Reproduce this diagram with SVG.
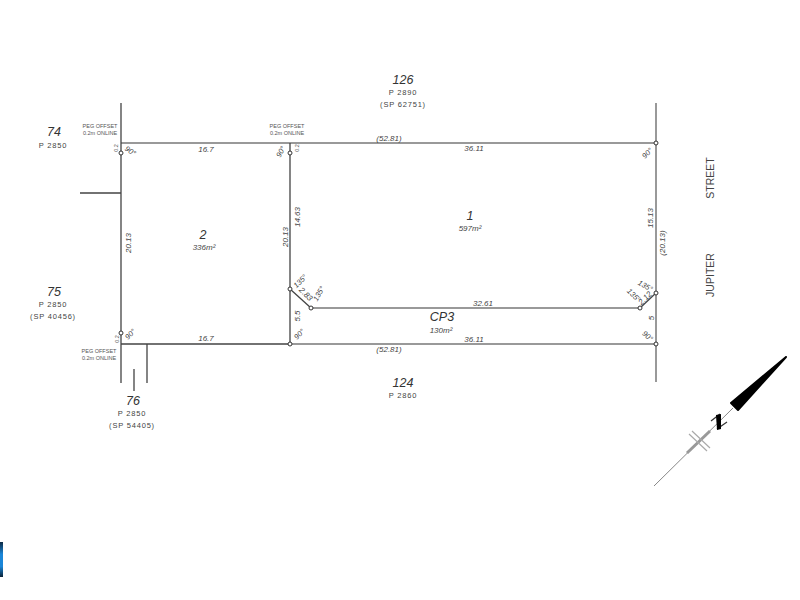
<svg xmlns="http://www.w3.org/2000/svg" width="800" height="600" viewBox="0 0 800 600">
<defs>
<linearGradient id="blue" x1="0" y1="0" x2="0" y2="1"><stop offset="0" stop-color="#0c2a44"/><stop offset="0.35" stop-color="#1a86d8"/><stop offset="0.7" stop-color="#1a86d8"/><stop offset="1" stop-color="#0a2236"/></linearGradient>
</defs>
<style>
text{font-family:"Liberation Sans",Arial,sans-serif;fill:#444;text-anchor:middle}
.d{font-size:8px;font-style:italic}
.a{font-size:7.5px;font-style:italic}
.n{font-size:12.5px;font-style:italic;fill:#333}
.p{font-size:7.5px;letter-spacing:.8px}
.o{font-size:5.5px;fill:#555}
.s{font-size:10.5px;fill:#444}
.l{stroke:#444;stroke-width:1.3;fill:none}
.g{stroke:#777;stroke-width:1.5;fill:none}
.peg{fill:#fff;stroke:#333;stroke-width:1}
</style>
<rect width="800" height="600" fill="#fff"/>
<rect x="0" y="542" width="3" height="35" fill="url(#blue)"/>
<g id="connectors">
<path class="g" d="M121 143H656"/>
<path class="g" d="M290 344H656"/>
<path class="l" d="M121 103V383M121 344H290M290 143V344M80 193H121M147 344V383M134 369V391"/>
<path class="g" d="M656 103V382"/>
<path class="l" d="M290 289L311 308"/>
<path class="g" d="M311 308H640"/>
<path class="l" d="M640 308L656 293"/>
</g>
<g id="pegs">
<circle class="peg" cx="121" cy="153" r="2"/>
<circle class="peg" cx="290" cy="153" r="2"/>
<circle class="peg" cx="656" cy="143" r="2"/>
<circle class="peg" cx="121" cy="333" r="2"/>
<circle class="peg" cx="290" cy="344" r="2"/>
<circle class="peg" cx="656" cy="344" r="2"/>
<circle class="peg" cx="290" cy="289" r="2"/>
<circle class="peg" cx="311" cy="308" r="2"/>
<circle class="peg" cx="640" cy="308" r="2"/>
<circle class="peg" cx="656" cy="293" r="2"/>
</g>
<g id="lot-74"><text class="n" x="54" y="136">74</text><text class="p" x="53" y="148">P 2850</text></g>
<g id="lot-75"><text class="n" x="54" y="296">75</text><text class="p" x="53" y="307">P 2850</text><text class="p" x="53" y="319">(SP 40456)</text></g>
<g id="lot-76"><text class="n" x="133" y="405">76</text><text class="p" x="132" y="416">P 2850</text><text class="p" x="132" y="428">(SP 54405)</text></g>
<g id="lot-126"><text class="n" x="403" y="84">126</text><text class="p" x="403" y="95">P 2890</text><text class="p" x="403" y="107">(SP 62751)</text></g>
<g id="lot-124"><text class="n" x="403" y="387">124</text><text class="p" x="403" y="398">P 2860</text></g>
<g id="lot-2"><text class="n" x="203" y="239">2</text><text class="d" x="204" y="250">336m²</text></g>
<g id="lot-1"><text class="n" x="470" y="220">1</text><text class="d" x="470" y="231">597m²</text></g>
<g id="lot-cp3"><text class="n" x="442" y="321">CP3</text><text class="d" x="441" y="333">130m²</text></g>
<g id="street"><text class="s" transform="translate(714,178) rotate(-90)">STREET</text><text class="s" transform="translate(714,275) rotate(-90)">JUPITER</text></g>
<g id="peg-notes">
<text class="o" x="100" y="128">PEG OFFSET</text><text class="o" x="100" y="135">0.2m ONLINE</text>
<text class="o" x="287" y="128">PEG OFFSET</text><text class="o" x="287" y="135">0.2m ONLINE</text>
<text class="o" x="99" y="353">PEG OFFSET</text><text class="o" x="99" y="360">0.2m ONLINE</text>
<text class="o" transform="translate(118,148) rotate(-90)">0.2</text>
<text class="o" transform="translate(299,148) rotate(-90)">0.2</text>
<text class="o" transform="translate(119,339) rotate(-90)">0.2</text>
</g>
<g id="dimensions">
<text class="d" x="206" y="152">16.7</text>
<text class="d" x="389" y="141">(52.81)</text>
<text class="d" x="474" y="151">36.11</text>
<text class="d" x="206" y="341">16.7</text>
<text class="d" x="389" y="352">(52.81)</text>
<text class="d" x="474" y="342">36.11</text>
<text class="d" x="483" y="306">32.61</text>
<text class="d" transform="translate(131,243) rotate(-90)">20.13</text>
<text class="d" transform="translate(288,237) rotate(-90)">20.13</text>
<text class="d" transform="translate(300,217) rotate(-90)">14.63</text>
<text class="d" transform="translate(300,316) rotate(-90)">5.5</text>
<text class="d" transform="translate(653,218) rotate(-90)">15.13</text>
<text class="d" transform="translate(665,243) rotate(-90)">(20.13)</text>
<text class="d" transform="translate(654,318) rotate(-90)">5</text>
<text class="d" transform="translate(304,296) rotate(45)">2.83</text>
<text class="d" transform="translate(647,300) rotate(-45)">2.12</text>
</g>
<g id="angles">
<text class="a" transform="translate(129,153) rotate(35)">90°</text>
<text class="a" transform="translate(283,153) rotate(-60)">90°</text>
<text class="a" transform="translate(649,155) rotate(-45)">90°</text>
<text class="a" transform="translate(132,336) rotate(-45)">90°</text>
<text class="a" transform="translate(301,336) rotate(-45)">90°</text>
<text class="a" transform="translate(646,338) rotate(40)">90°</text>
<text class="a" transform="translate(302,283) rotate(-45)">135°</text>
<text class="a" transform="translate(321,295) rotate(-60)">135°</text>
<text class="a" transform="translate(644,288) rotate(30)">135°</text>
<text class="a" transform="translate(632,297) rotate(45)">135°</text>
</g>
<g id="north-arrow">
<path d="M654 486L733 408" stroke="#888" stroke-width="1" fill="none"/>
<path d="M687 453L710 431" stroke="#999" stroke-width="3" fill="none"/>
<path d="M689 434L707 451M692 431L710 448" stroke="#aaa" stroke-width="1.2" fill="none"/>
<path d="M786 357L738 410L731 403Z" fill="#000" stroke="#000" stroke-width="2" stroke-linejoin="round"/>
<path d="M711 421L720 414" stroke="#333" stroke-width="1.2" fill="none"/>
<path d="M717 429L727 422" stroke="#333" stroke-width="1.2" fill="none"/>
<path d="M716 415L721 414L721 429L717 430Z" fill="#000"/>
</g>
</svg>
